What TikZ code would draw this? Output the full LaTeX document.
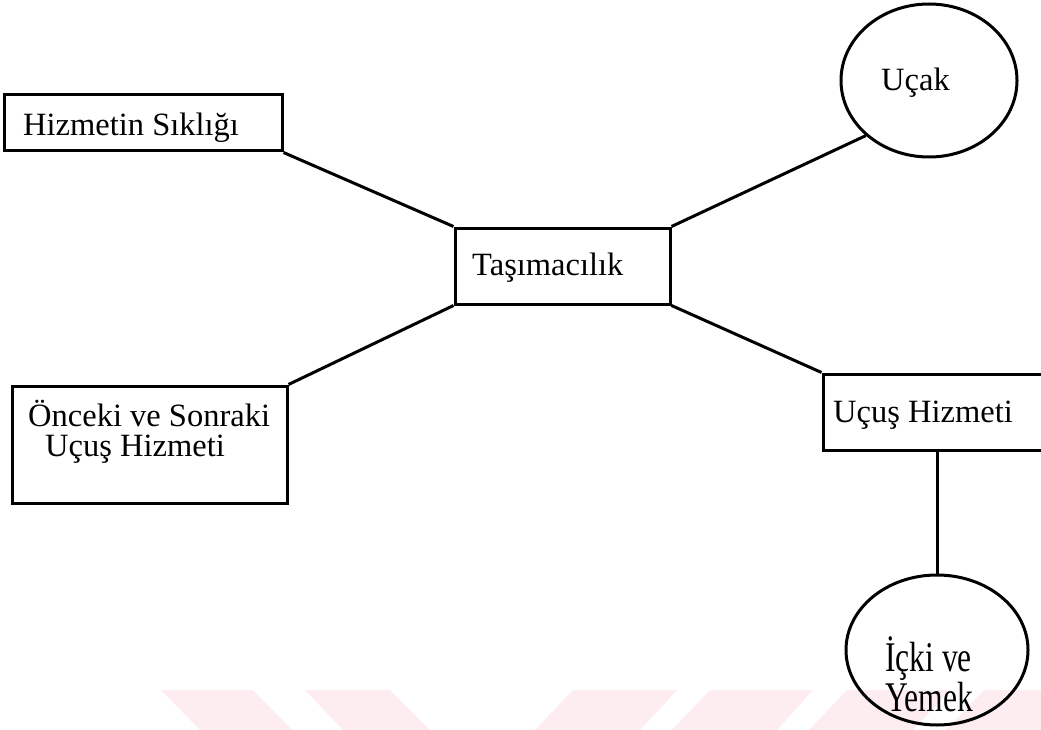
\documentclass[tikz,border=0pt]{standalone}
\usepackage{fontspec}
\setmainfont{Liberation Serif}
\usetikzlibrary{shapes.geometric}
\definecolor{wm}{RGB}{253,237,241}
\tikzset{
  box/.style={draw, rectangle, line width=3pt, inner sep=0pt},
  oval/.style={draw, ellipse, line width=3pt, inner sep=0pt},
  lbl/.style={anchor=base west, inner sep=0pt, font=\fontsize{32.5}{38}\selectfont},
  link/.style={line width=3pt},
  mark band/.style={fill=wm, draw=none}
}
\begin{document}
\begin{tikzpicture}[x=1pt,y=-1pt]
\useasboundingbox (0,0) rectangle (1041,730);
\fill[white] (0,0) rectangle (1041,730);
% watermark bands
\fill[mark band] (161,690) -- (253,690) -- (292,730) -- (200,730) -- cycle;
\fill[mark band] (305,690) -- (390,690) -- (430,730) -- (343,730) -- cycle;
\fill[mark band] (573,690) -- (677,690) -- (640,730) -- (535,730) -- cycle;
\fill[mark band] (710,690) -- (813,690) -- (777,730) -- (672,730) -- cycle;
\fill[mark band] (847,690) -- (950,690) -- (913,730) -- (809,730) -- cycle;
\fill[mark band] (984,690) -- (1087,690) -- (1050,730) -- (946,730) -- cycle;
% shapes
\node[box, minimum width=278pt, minimum height=56pt] (hiz) at (143,123) {};
\node[box, minimum width=215pt, minimum height=76pt] (tas) at (562.5,266) {};
\node[box, minimum width=275pt, minimum height=117pt] (prev) at (149.5,444.5) {};
\node[box, minimum width=222pt, minimum height=76pt] (ucus) at (934,412) {};
\node[oval, minimum width=176pt, minimum height=153pt] (ucak) at (929,80.5) {};
\node[oval, minimum width=182pt, minimum height=150pt] (icki) at (937,650) {};
% texts
\node[lbl] (thiz) at (23,136) {Hizmetin Sıklığı};
\node[lbl] (ttas) at (472,275) {Taşımacılık};
\node[lbl] (tucak) at (881,91) {Uçak};
\node[lbl] (tprev1) at (28,426) {Önceki ve Sonraki};
\node[lbl] (tprev2) at (45,456) {Uçuş Hizmeti};
\node[lbl] (tucus) at (833,422) {Uçuş Hizmeti};
\node[lbl] (ticki1) at (885,671) {\scalebox{0.97}[1.3]{İçki ve}};
\node[lbl] (ticki2) at (885,711) {\scalebox{0.97}[1.3]{Yemek}};
% connectors
\draw[link] (hiz.south east) -- (tas.north west);
\draw[link] (tas.north east) -- (ucak.south west);
\draw[link] (tas.south west) -- (prev.north east);
\draw[link] (tas.south east) -- (ucus.north west);
\draw[link] (icki.north) -- (icki.north |- ucus.south);
\end{tikzpicture}
\end{document}
